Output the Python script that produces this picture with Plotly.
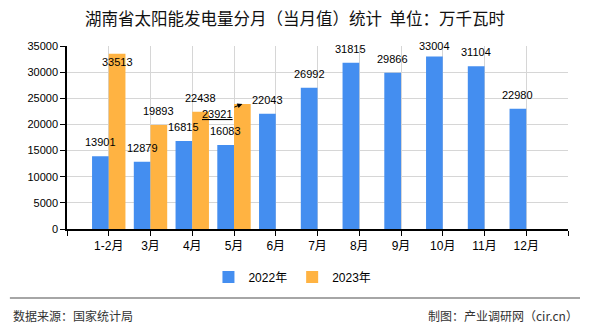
import plotly.graph_objects as go

categories = ["1-2月", "3月", "4月", "5月", "6月", "7月", "8月", "9月", "10月", "11月", "12月"]
values_2022 = [13901, 12879, 16815, 16083, 22043, 26992, 31815, 29866, 33004, 31104, 22980]
values_2023 = [33513, 19893, 22438, 23921]
y_ticks = [0, 5000, 10000, 15000, 20000, 25000, 30000, 35000]

BLUE = "#448EF0"
ORANGE = "#FFB342"
FONT = "Liberation Sans, Noto Sans CJK SC"
BW = 0.4

idx22 = list(range(len(values_2022)))
idx23 = list(range(len(values_2023)))

fig = go.Figure()
fig.add_trace(go.Bar(name="2022年", x=idx22, y=values_2022, width=BW, offset=-BW,
                     marker=dict(color=BLUE, line=dict(width=0))))
fig.add_trace(go.Bar(name="2023年", x=idx23, y=values_2023, width=BW, offset=0,
                     marker=dict(color=ORANGE, line=dict(width=0))))

annotations = []
shift22 = {8: 2}
shift23 = {0: -16}
for i, v in enumerate(values_2022):
    annotations.append(dict(x=i - BW / 2, y=v, xref="x", yref="y", text=str(v), showarrow=False,
                            yanchor="bottom", yshift=shift22.get(i, 6),
                            font=dict(family=FONT, size=11, color="#000")))
for i, v in enumerate(values_2023):
    if i == 3:
        annotations.append(dict(x=i + BW / 2, y=v, xref="x", yref="y",
                                text="<span style='text-decoration:underline'>%d</span>" % v,
                                showarrow=True, arrowhead=2, arrowsize=1, arrowwidth=1, arrowcolor="#000",
                                ax=-25, ay=10, standoff=0,
                                font=dict(family=FONT, size=11, color="#000")))
        continue
    annotations.append(dict(x=i + BW / 2, y=v, xref="x", yref="y", text=str(v), showarrow=False,
                            yanchor="bottom", yshift=shift23.get(i, 6),
                            font=dict(family=FONT, size=11, color="#000")))

annotations.append(dict(x=-0.112, y=-0.475, xref="paper", yref="paper", text="数据来源：国家统计局",
                        showarrow=False, xanchor="left", yanchor="middle",
                        font=dict(family="Noto Sans CJK SC", size=12, color="#333")))
annotations.append(dict(x=1.024, y=-0.475, xref="paper", yref="paper", text="制图：产业调研网（cir.cn）",
                        showarrow=False, xanchor="right", yanchor="middle",
                        font=dict(family="Noto Sans CJK SC", size=12, color="#333")))

tickvals = [-1] + idx22 + [len(categories)]
ticktext = [""] + categories + [""]

fig.update_layout(
    width=590, height=330,
    margin=dict(l=67, r=22, t=46, b=101),
    paper_bgcolor="white", plot_bgcolor="white",
    barmode="overlay",
    title=dict(text="湖南省太阳能发电量分月（当月值）统计  单位：万千瓦时", x=0.5, xref="container",
               xanchor="center", y=1 - 19 / 330, yanchor="middle", yref="container",
               font=dict(family="Noto Sans CJK SC", size=16.5, color="#111")),
    xaxis=dict(range=[-1, len(categories)], tickmode="array", tickvals=tickvals, ticktext=ticktext,
               showgrid=True, gridcolor="#d6d6d6", gridwidth=1, showline=True, linecolor="#000",
               linewidth=1.5, ticks="outside", ticklen=5, tickcolor="#000", zeroline=False,
               tickfont=dict(family=FONT, size=12, color="#000")),
    yaxis=dict(range=[0, 35000], tickmode="array", tickvals=y_ticks, ticktext=[str(t) for t in y_ticks],
               showgrid=True, gridcolor="#d6d6d6", gridwidth=1, showline=True, linecolor="#000",
               linewidth=1.5, ticks="outside", ticklen=5, tickcolor="#000", zeroline=False,
               tickfont=dict(family=FONT, size=11, color="#000")),
    legend=dict(orientation="h", x=0.45, xanchor="center", y=-0.262, yanchor="middle",
                font=dict(family=FONT, size=12, color="#000"), itemwidth=30),
    annotations=annotations,
    shapes=[dict(type="line", xref="paper", yref="paper", x0=-0.114, x1=1.024, y0=-0.377, y1=-0.377,
                 line=dict(color="#888", width=1.5))],
    showlegend=True,
)

fig.write_html("out.html")
